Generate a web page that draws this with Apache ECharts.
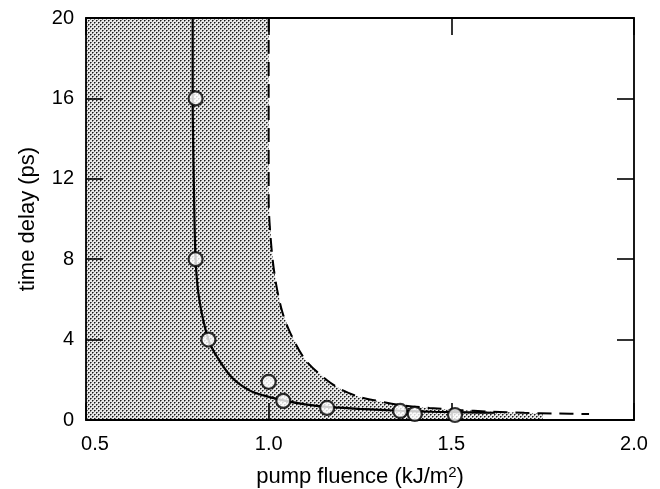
<!DOCTYPE html>
<html><head><meta charset="utf-8">
<script src="https://cdn.jsdelivr.net/npm/echarts@6/dist/echarts.min.js"></script>
<style>html,body{margin:0;padding:0;background:#fff}#c{width:660px;height:489px}</style>
</head><body><div id="c"></div>
<script>
// measured data points (pump fluence kJ/m^2, time delay ps)
const pointsX = [0.80, 0.80, 0.835, 1.0, 1.04, 1.16, 1.36, 1.40, 1.51];
const pointsY = [16, 8, 4, 1.9, 0.95, 0.6, 0.45, 0.3, 0.25];
// solid fitted curve
const solidX = [0.792, 0.792, 0.795, 0.80, 0.81, 0.835, 0.86, 0.90, 0.95, 1.0, 1.04, 1.10, 1.16, 1.25, 1.36, 1.45, 1.55, 1.62];
const solidY = [20, 16, 12, 8, 6, 4, 3.1, 2.1, 1.45, 1.15, 0.98, 0.78, 0.65, 0.55, 0.46, 0.41, 0.38, 0.36];
// dashed threshold curve
const dashX = [1.0, 1.0, 1.008, 1.02, 1.037, 1.06, 1.10, 1.158, 1.20, 1.249, 1.284, 1.358, 1.44, 1.52, 1.604, 1.70, 1.787, 1.877];
const dashY = [20, 11, 8.5, 6.8, 5.4, 4.3, 3.0, 2.0, 1.5, 1.14, 1.0, 0.75, 0.6, 0.5, 0.42, 0.36, 0.32, 0.3];
// shaded region boundary
const shadeX = [0.5, 1.0, 1.0, 1.008, 1.02, 1.037, 1.06, 1.10, 1.158, 1.20, 1.249, 1.284, 1.358, 1.44, 1.52, 1.604, 1.70, 1.75];
const shadeY = [20, 20, 11, 8.5, 6.8, 5.4, 4.3, 3.0, 2.0, 1.5, 1.14, 1.0, 0.75, 0.6, 0.5, 0.42, 0.36, 0.34];
const xTicks = [0.5, 1.0, 1.5, 2.0];
const yTicks = [0, 4, 8, 12, 16, 20];

const zip = (a, b) => a.map((v, i) => [v, b[i]]);

const pc = document.createElement('canvas');
pc.width = 4; pc.height = 4;
const g = pc.getContext('2d');
g.fillStyle = '#e8e8e8'; g.fillRect(0, 0, 4, 4);
g.fillStyle = '#1a1a1a'; g.fillRect(0, 0, 1, 1); g.fillRect(2, 2, 1, 1);
g.fillStyle = '#7a7a7a';
g.fillRect(1, 0, 1, 1); g.fillRect(0, 1, 1, 1); g.fillRect(3, 2, 1, 1); g.fillRect(2, 3, 1, 1);

const font = 'Liberation Sans, Arial, Helvetica, sans-serif';
const axisLine = {show: true, onZero: false, lineStyle: {color: '#000', width: 1.8}};
const tickS = {show: true, inside: true, length: 17, lineStyle: {color: '#000', width: 1.6}};

const chart = echarts.init(document.getElementById('c'));
chart.setOption({
  animation: false,
  grid: {left: 86, right: 26, top: 18, bottom: 69, containLabel: false, outerBoundsMode: 'none'},
  xAxis: [{
    type: 'value', min: 0.5, max: 2.0, interval: 0.5, z: 10,
    axisLine, axisTick: tickS, splitLine: {show: false},
    axisLabel: {color: '#000', fontSize: 20, fontFamily: font, margin: 14,
      formatter: v => xTicks.includes(v) ? (v === 0.5 ? '{a|' + v.toFixed(1) + '}' : v.toFixed(1)) : '',
      rich: {a: {fontSize: 20, fontFamily: font, color: '#000', padding: [0, 0, 0, 18]}}},
    name: 'pump fluence (kJ/m{sup|2})', nameLocation: 'middle', nameGap: 45,
    nameTextStyle: {color: '#000', fontSize: 22, fontFamily: font,
      rich: {sup: {fontSize: 15, verticalAlign: 'top', padding: [0, 0, 8, 0], color: '#000', fontFamily: font}}}
  }, {
    type: 'value', position: 'top', min: 0.5, max: 2.0, interval: 0.5, z: 10,
    axisLine, axisTick: tickS, axisLabel: {show: false}, splitLine: {show: false}
  }],
  yAxis: [{
    type: 'value', min: 0, max: 20, interval: 4, z: 10,
    axisLine, axisTick: tickS, splitLine: {show: false},
    axisLabel: {color: '#000', fontSize: 20, fontFamily: font, margin: 12,
      formatter: v => yTicks.includes(v) ? String(v) : ''},
    name: 'time delay (ps)', nameLocation: 'middle', nameGap: 47, nameRotate: 90,
    nameTextStyle: {color: '#000', fontSize: 22, fontFamily: font}
  }, {
    type: 'value', position: 'right', min: 0, max: 20, interval: 4, z: 10,
    axisLine, axisTick: tickS, axisLabel: {show: false}, splitLine: {show: false}
  }],
  series: [{
    type: 'line', data: zip(shadeX, shadeY), symbol: 'none', z: 1,
    lineStyle: {width: 0, opacity: 0},
    areaStyle: {color: {image: pc, repeat: 'repeat'}, opacity: 1}
  }, {
    type: 'line', data: zip(dashX, dashY), symbol: 'none', smooth: 0.3, z: 3,
    lineStyle: {color: '#000', width: 2, type: [14, 8]}
  }, {
    type: 'line', data: zip(solidX, solidY), symbol: 'none', smooth: 0.3, z: 3,
    lineStyle: {color: '#000', width: 2.2}
  }, {
    type: 'scatter', data: zip(pointsX, pointsY), symbol: 'circle', symbolSize: 14, z: 11,
    itemStyle: {color: '#fff', borderColor: '#000', borderWidth: 2.2}
  }]
});
</script></body></html>
